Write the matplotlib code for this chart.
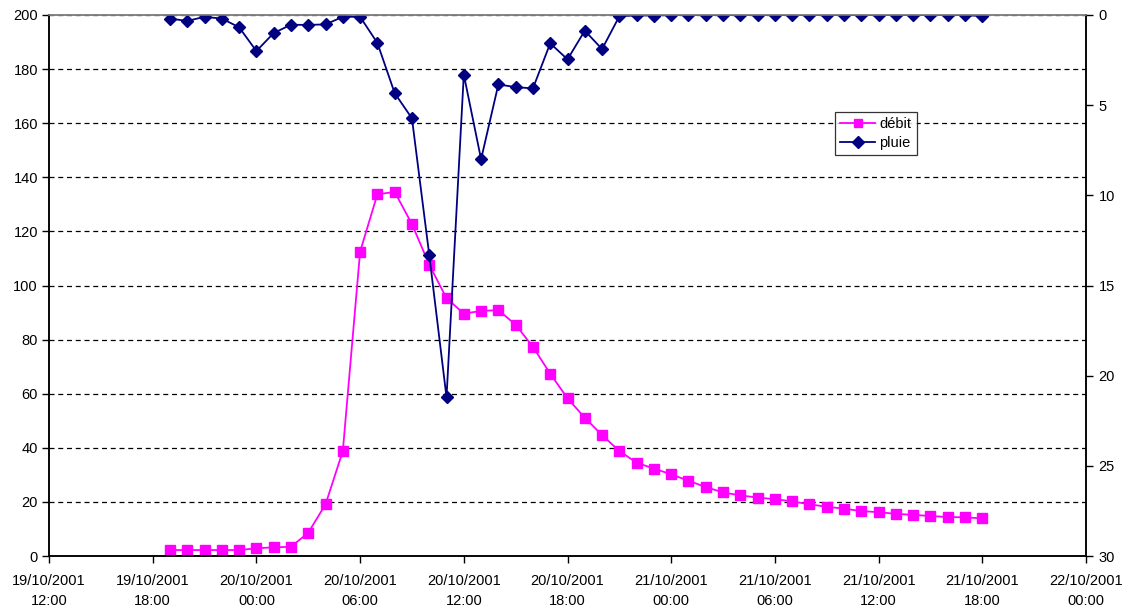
import numpy as np
import pandas as pd
import matplotlib
matplotlib.use('Agg')
import matplotlib.pyplot as plt
import matplotlib.dates as mdates

plt.rcParams['font.family'] = ['Liberation Sans', 'DejaVu Sans']
plt.rcParams['font.size'] = 10.5

# hourly readings, 19/10/2001 19:00 -> 21/10/2001 18:00
times = pd.date_range('2001-10-19 19:00', periods=48, freq='h')

debit = [2.2, 2.2, 2.2, 2.2, 2.2, 2.85, 3.2, 3.4, 8.6, 19.1,
         38.8, 112.5, 133.7, 134.6, 122.7, 107.7, 95.3, 89.6, 90.6, 90.9,
         85.5, 77.3, 67.4, 58.3, 51.1, 44.7, 38.8, 34.5, 32.3, 30.2,
         27.8, 25.5, 23.5, 22.4, 21.6, 21.0, 20.2, 19.1, 18.2, 17.5,
         16.6, 16.2, 15.6, 15.2, 14.8, 14.4, 14.3, 13.9]

pluie = [0.2, 0.33, 0.1, 0.2, 0.68, 2.0, 1.0, 0.54, 0.55, 0.52,
         0.1, 0.1, 1.55, 4.33, 5.73, 13.3, 21.2, 3.3, 8.0, 3.85,
         4.0, 4.07, 1.57, 2.46, 0.87, 1.89, 0.07, 0.02, 0.03, 0.0,
         0.0, 0.0, 0.0, 0.0, 0.0, 0.0, 0.0, 0.0, 0.0, 0.0,
         0.0, 0.0, 0.0, 0.0, 0.0, 0.0, 0.0, 0.07]

fig = plt.figure(figsize=(11.34, 6.13), dpi=100)
ax = fig.add_axes([49/1134, 1-556/613, (1086-49)/1134, (556-15)/613])
ax2 = ax.twinx()

l1, = ax.plot(times, debit, color='#FF00FF', marker='s', markersize=7.5,
              linewidth=1.3, label='débit')
l2, = ax2.plot(times, pluie, color='#000080', marker='D', markersize=6,
               linewidth=1.3, label='pluie')

ax.set_xlim(pd.Timestamp('2001-10-19 12:00'), pd.Timestamp('2001-10-22 00:00'))
ax.set_ylim(0, 200)
ax.set_yticks(np.arange(0, 201, 20))
ax2.set_ylim(30, 0)
ax2.set_yticks(np.arange(0, 31, 5))

ax.xaxis.set_major_locator(mdates.HourLocator(byhour=[0, 6, 12, 18]))
ax.xaxis.set_major_formatter(mdates.DateFormatter('%d/%m/%Y\n%H:%M'))
for lab in ax.get_xticklabels():
    lab.set_linespacing(1.55)

ax.yaxis.grid(True, color='black', linestyle=(0, (4, 3)), linewidth=0.9)
ax.set_axisbelow(True)

for a in (ax, ax2):
    a.tick_params(direction='out', length=5, width=1, colors='black', labelsize=10.5)
    for s in a.spines.values():
        s.set_linewidth(1.1)
    a.spines['top'].set_color('#808080')
ax.tick_params(axis='x', pad=8)
ax.tick_params(axis='y', pad=3)
ax2.tick_params(axis='y', pad=4)

leg = ax2.legend([l1, l2], ['débit', 'pluie'], loc='upper left',
                 bbox_to_anchor=((835-49)/1037, 1-(112-15)/541),
                 frameon=True, fancybox=False, shadow=False,
                 handlelength=2.4, handletextpad=0.3, borderpad=0.35,
                 labelspacing=0.35, borderaxespad=0, fontsize=10.5)
leg.get_frame().set_edgecolor('black')
leg.get_frame().set_linewidth(0.9)
for h in leg.legend_handles:
    h.set_markersize(6)

fig.savefig('out.png', dpi=100)
